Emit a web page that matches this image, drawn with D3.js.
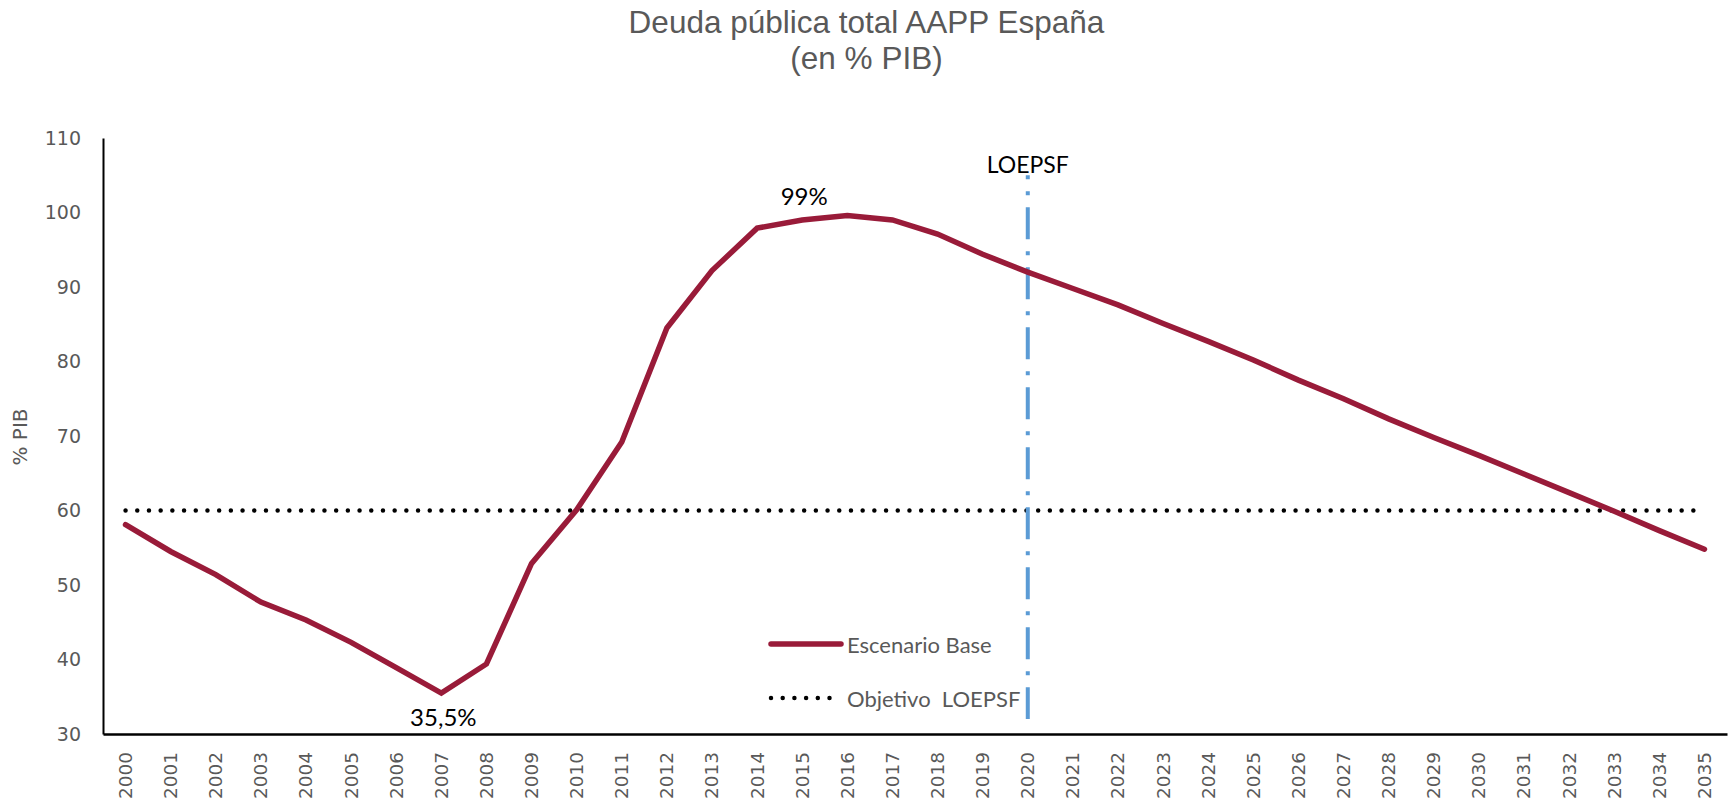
<!DOCTYPE html>
<html>
<head>
<meta charset="utf-8">
<script src="https://cdn.jsdelivr.net/npm/d3@7"></script>
<style>
  html, body { margin: 0; padding: 0; background: #fff; }
  svg { display: block; }
</style>
</head>
<body>
<svg id="chart" width="1733" height="804"></svg>
<script>
// ---- data ----
const years = ["2000","2001","2002","2003","2004","2005","2006","2007","2008","2009",
  "2010","2011","2012","2013","2014","2015","2016","2017","2018","2019",
  "2020","2021","2022","2023","2024","2025","2026","2027","2028","2029",
  "2030","2031","2032","2033","2034","2035"];
const escenarioBase = [58.1, 54.5, 51.4, 47.7, 45.3, 42.3, 38.9, 35.5, 39.4, 52.9,
  60.1, 69.2, 84.5, 92.2, 97.9, 99.0, 99.6, 99.0, 97.1, 94.4,
  92.0, 89.8, 87.6, 85.1, 82.7, 80.2, 77.5, 75.0, 72.3, 69.8,
  67.4, 64.9, 62.4, 59.9, 57.3, 54.8];
const objetivo = 60;
const yTicks = [30, 40, 50, 60, 70, 80, 90, 100, 110];
const loepsfYear = "2020";
const loepsfRange = [32, 105];
const annotations = [
  { year: "2015", value: 99.0, text: "99%", pos: "above" },
  { year: "2007", value: 35.5, text: "35,5%", pos: "below" }
];
const titleLines = ["Deuda pública total AAPP España", "(en % PIB)"];
const legendItems = ["Escenario Base", "Objetivo  LOEPSF"];

// ---- layout ----
const svg = d3.select("#chart");
const mLeft = 103, mRight = 1727, mTop = 138, mBottom = 734;

const x = d3.scaleBand().domain(years).range([mLeft, mRight]).padding(0);
const xc = d => x(d) + x.bandwidth() / 2;
const y = d3.scaleLinear().domain([30, 110]).range([mBottom, mTop]);

const grey = "#595959";
const red = "#991B39";
const blue = "#5B9BD5";

// title
svg.append("g").selectAll("text").data(titleLines).join("text")
  .attr("x", 866.5)
  .attr("y", (d, i) => 33 + i * 35.5)
  .attr("text-anchor", "middle")
  .attr("font-family", "Liberation Sans, Arial, sans-serif")
  .attr("font-size", 31.5)
  .attr("fill", grey)
  .text(d => d);

// y axis
const yAxis = svg.append("g")
  .attr("transform", `translate(${mLeft},0)`)
  .call(d3.axisLeft(y).tickValues(yTicks).tickSize(0).tickPadding(22));
yAxis.select(".domain").attr("stroke", "#000").attr("stroke-width", 2);
yAxis.selectAll("text")
  .attr("font-family", "DejaVu Sans, sans-serif")
  .attr("font-size", 19)
  .attr("fill", grey);

// x axis
const xAxis = svg.append("g")
  .attr("transform", `translate(0,${mBottom})`)
  .call(d3.axisBottom(x).tickSize(0).tickPadding(0));
xAxis.select(".domain").attr("stroke", "#000").attr("stroke-width", 2.5);
xAxis.selectAll("text")
  .attr("font-family", "DejaVu Sans, sans-serif")
  .attr("font-size", 18.5)
  .attr("fill", grey)
  .attr("text-anchor", "end")
  .attr("y", 0)
  .attr("dy", "0.35em")
  .attr("transform", "translate(0,18) rotate(-90)");

// y axis title
svg.append("text")
  .attr("transform", "translate(27,437) rotate(-90)")
  .attr("text-anchor", "middle")
  .attr("font-family", "DejaVu Sans, sans-serif")
  .attr("font-size", 20)
  .attr("fill", grey)
  .text("% PIB");

// objective dotted line
svg.append("line")
  .attr("x1", xc(years[0])).attr("x2", xc(years[years.length - 1]))
  .attr("y1", y(objetivo)).attr("y2", y(objetivo))
  .attr("stroke", "#000")
  .attr("stroke-width", 4.5)
  .attr("stroke-linecap", "round")
  .attr("stroke-dasharray", "0,11.7");

// LOEPSF vertical dash-dot line
svg.append("line")
  .attr("x1", xc(loepsfYear)).attr("x2", xc(loepsfYear))
  .attr("y1", y(loepsfRange[1])).attr("y2", y(loepsfRange[0]))
  .attr("stroke", blue)
  .attr("stroke-width", 4)
  .attr("stroke-dasharray", "32,12,4,12")
  .attr("stroke-dashoffset", 28);

svg.append("text")
  .attr("x", xc(loepsfYear)).attr("y", 173)
  .attr("text-anchor", "middle")
  .attr("font-family", "Lato, sans-serif")
  .attr("font-size", 23)
  .attr("fill", "#000")
  .text("LOEPSF");

// main line
const line = d3.line().x((d, i) => xc(years[i])).y(d => y(d));
svg.append("path")
  .datum(escenarioBase)
  .attr("d", line)
  .attr("fill", "none")
  .attr("stroke", red)
  .attr("stroke-width", 5.5)
  .attr("stroke-linejoin", "miter")
  .attr("stroke-linecap", "round");

// annotations
svg.append("g").selectAll("text").data(annotations).join("text")
  .attr("x", d => xc(d.year) + 2)
  .attr("y", d => d.pos === "above" ? y(d.value) - 15 : y(d.value) + 33)
  .attr("text-anchor", "middle")
  .attr("font-family", "Lato, sans-serif")
  .attr("font-size", 24)
  .attr("fill", "#000")
  .text(d => d.text);

// legend
const lg = svg.append("g");
lg.append("line")
  .attr("x1", 771).attr("x2", 841).attr("y1", 644).attr("y2", 644)
  .attr("stroke", red).attr("stroke-width", 5.5).attr("stroke-linecap", "round");
lg.append("line")
  .attr("x1", 771).attr("x2", 831).attr("y1", 698).attr("y2", 698)
  .attr("stroke", "#000").attr("stroke-width", 4.5)
  .attr("stroke-linecap", "round").attr("stroke-dasharray", "0,11.7");
lg.selectAll("text").data(legendItems).join("text")
  .attr("x", 847)
  .attr("y", (d, i) => 653 + i * 54)
  .attr("font-family", "Lato, sans-serif")
  .attr("font-size", 22)
  .attr("fill", grey)
  .style("white-space", "pre")
  .text(d => d);
</script>
</body>
</html>
